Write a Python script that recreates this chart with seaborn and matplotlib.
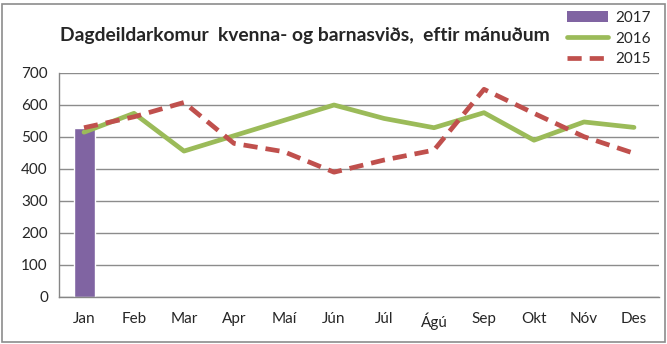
import numpy as np
import pandas as pd
import matplotlib
matplotlib.use("Agg")
import matplotlib.pyplot as plt
from matplotlib.patches import Rectangle, Patch
from matplotlib.lines import Line2D
import seaborn as sns

months = ["Jan", "Feb", "Mar", "Apr", "Maí", "Jún", "Júl", "Ágú", "Sep", "Okt", "Nóv", "Des"]
v2017 = [527, None, None, None, None, None, None, None, None, None, None, None]
v2016 = [515, 574, 456, 504, 552, 600, 558, 529, 576, 490, 547, 530]
v2015 = [529, 563, 608, 480, 454, 390, 428, 459, 649, 574, 501, 449]
yticks = [0, 100, 200, 300, 400, 500, 600, 700]
title = "Dagdeildarkomur  kvenna- og barnasviðs,  eftir mánuðum"

sns.set_theme(style="white")
plt.rcParams["font.family"] = ["Lato", "DejaVu Sans"]

c17, c16, c15 = "#8064A2", "#9BBB59", "#C0504D"
dash = (0, (3.0, 1.7))

df = pd.DataFrame({"month": months, "pos": range(len(months)),
                   "y2017": pd.to_numeric(pd.Series(v2017), errors="coerce"),
                   "y2016": v2016, "y2015": v2015})

fig = plt.figure(figsize=(6.67, 3.44), dpi=100)
ax = fig.add_axes([59 / 667, 1 - 297 / 344, 600 / 667, 224 / 344])

sns.barplot(data=df, x="pos", y="y2017", color=c17, width=0.42, ax=ax,
            saturation=1, zorder=2)
sns.lineplot(data=df, x="pos", y="y2016", color=c16, linewidth=3.4, ax=ax, zorder=3)
sns.lineplot(data=df, x="pos", y="y2015", color=c15, linewidth=3.4, ax=ax, zorder=4,
             linestyle=dash)

ax.set_xlim(-0.5, len(months) - 0.5)
ax.set_ylim(0, 700)
ax.set_yticks(yticks)
ax.set_yticklabels([str(t) for t in yticks], fontsize=11)
ax.set_xticks(range(len(months)))
ax.set_xticklabels(months, fontsize=11)
ax.set_xticks(np.arange(-0.5, len(months), 1), minor=True)
ax.tick_params(axis="x", which="major", length=0, pad=11)
ax.tick_params(axis="x", which="minor", length=5, width=1, color="#868686", direction="out")
ax.tick_params(axis="y", which="major", length=5, width=1, color="#868686", direction="out", pad=3)
ax.yaxis.grid(True, color="#8C8C8C", linewidth=1)
ax.set_axisbelow(True)
ax.set_xlabel("")
ax.set_ylabel("")
for side in ["top", "right"]:
    ax.spines[side].set_visible(False)
for side in ["left", "bottom"]:
    ax.spines[side].set_color("#868686")
    ax.spines[side].set_linewidth(1)
ax.set_facecolor("white")

fig.text(60 / 667, 1 - 35 / 344, title, fontsize=13.9, fontweight="bold", va="center", ha="left")

handles = [Patch(facecolor=c17, edgecolor="none"),
           Line2D([], [], color=c16, linewidth=3.4),
           Line2D([], [], color=c15, linewidth=3.4, linestyle=dash)]
fig.legend(handles, ["2017", "2016", "2015"], loc="upper left",
           bbox_to_anchor=(556 / 667, 1 - 0 / 344), frameon=False, fontsize=11,
           handlelength=2.7, handletextpad=0.45, labelspacing=0.45, borderpad=0.2)

fig.patches.append(Rectangle((2 / 667, 2 / 344), 663 / 667, 338 / 344, transform=fig.transFigure,
                             fill=False, edgecolor="#8C8C8C", linewidth=1.2))
fig.savefig("out.png", dpi=100, facecolor="white")
